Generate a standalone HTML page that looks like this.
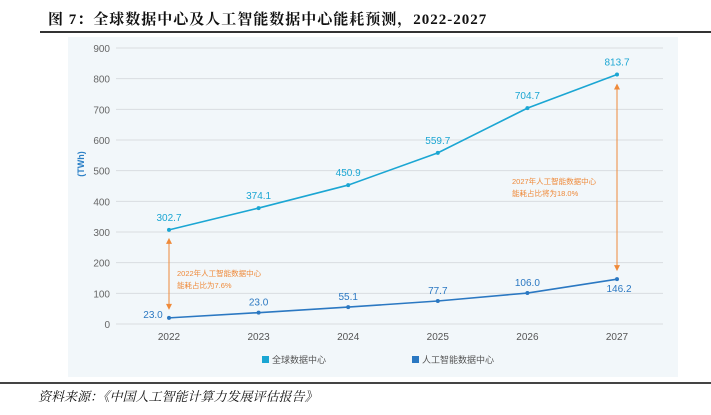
<!DOCTYPE html>
<html><head><meta charset="utf-8">
<style>
body{margin:0;background:#fff;width:711px;height:415px;overflow:hidden;font-family:"Liberation Sans","Noto Sans CJK SC",sans-serif;}
#title{position:absolute;left:48px;top:8px;font-family:"Liberation Serif","Noto Serif CJK SC",serif;font-weight:bold;font-size:15px;color:#111;letter-spacing:1px;}
#rule1{position:absolute;left:40px;top:31px;width:671px;height:2px;background:#333;}
#panel{position:absolute;left:68px;top:37px;width:610px;height:340px;background:#f2f7fa;}
#rule2{position:absolute;left:0;top:382px;width:711px;height:2px;background:#444;}
#source{position:absolute;left:38px;top:386px;font-family:"Liberation Serif","Noto Serif CJK SC",serif;font-style:italic;font-size:13px;color:#111;}
svg{position:absolute;left:0;top:0;}
</style></head><body>
<div id="title">图 7：全球数据中心及人工智能数据中心能耗预测，2022-2027</div>
<div id="rule1"></div>
<div id="panel"></div>
<svg id="chart" width="711" height="415"></svg>
<div id="rule2"></div>
<div id="source">资料来源：《中国人工智能计算力发展评估报告》</div>
<script>
const years=["2022","2023","2024","2025","2026","2027"];
const globalVals=[307,378,453,558,704,813.7];
const globalLabels=["302.7","374.1","450.9","559.7","704.7","813.7"];
const aiVals=[20,37,55.1,75,101,146.2];
const aiLabels=["23.0","23.0","55.1","77.7","106.0","146.2"];
const yTicks=[0,100,200,300,400,500,600,700,800,900];

const NS="http://www.w3.org/2000/svg";
const svg=document.getElementById('chart');
const x=i=>169+i*89.6;
const y=v=>324-v*(276/900);
function mk(tag,attrs,txt){const e=document.createElementNS(NS,tag);for(const k in attrs)e.setAttribute(k,attrs[k]);if(txt!==undefined)e.textContent=txt;svg.appendChild(e);return e;}

yTicks.forEach(t=>{
  const l=mk('line',{x1:116,x2:663,y1:y(t),y2:y(t),stroke:'#d9dde0','stroke-width':1});
  
  
  const tx=mk('text',{x:110,y:y(t)+4,'text-anchor':'end','font-size':10,fill:'#666'},t);
  
  
});
const yt=mk('text',{x:0,y:0,transform:'translate(84,164) rotate(-90)','text-anchor':'middle','font-size':9,fill:'#2a7fc6','font-weight':'bold'},'(TWh)');



years.forEach((yr,i)=>{
  const t=mk('text',{x:x(i),y:340,'text-anchor':'middle','font-size':10,fill:'#555'},yr);
  
  
});

function series(vals,labels,color,name,labelDy){
  const pts=vals.map((v,i)=>x(i)+','+y(v)).join(' ');
  const pl=mk('polyline',{points:pts,fill:'none',stroke:color,'stroke-width':1.6});
  
  
  vals.forEach((v,i)=>{
    const c=mk('circle',{cx:x(i),cy:y(v),r:2,fill:color});
    
    
    const d=labelDy(i);
    const t=mk('text',{x:x(i)+d[0],y:y(v)+d[1],'text-anchor':'middle','font-size':10,fill:color},labels[i]);
    
    
  });
}
series(globalVals,globalLabels,'#1ba6d3','global',i=>[0,-9]);
series(aiVals,aiLabels,'#2b78c2','ai',i=>i===0?[-16,0]:(i===5?[2,13]:[0,-7]));

// annotations
const orange='#ef8a3a';
function arrow(xp,y1,y2,name){
  const l=mk('line',{x1:xp,x2:xp,y1:y1+5,y2:y2-5,stroke:orange,'stroke-width':1});
  
  
  mk('polygon',{points:`${xp-3},${y1+6} ${xp+3},${y1+6} ${xp},${y1}`,fill:orange});
  mk('polygon',{points:`${xp-3},${y2-6} ${xp+3},${y2-6} ${xp},${y2}`,fill:orange});
}
arrow(169,y(globalVals[0])+8,y(aiVals[0])-8,'arrow-2022');
arrow(617,y(globalVals[5])+9,y(aiVals[5])-8,'arrow-2027');
[['2022年人工智能数据中心',177,276],['能耗占比为7.6%',177,288],['2027年人工智能数据中心',512,184],['能耗占比将为18.0%',512,196]].forEach((a,i)=>{
  const t=mk('text',{x:a[1],y:a[2],'font-size':7.5,fill:orange},a[0]);
  
  
});

// legend
[['全球数据中心','#1ba6d3',262],['人工智能数据中心','#2b78c2',412]].forEach((l,i)=>{
  const r=mk('rect',{x:l[2],y:356,width:7,height:7,fill:l[1]});
  
  
  const t=mk('text',{x:l[2]+10,y:363,'font-size':9,fill:'#555'},l[0]);
  
  
});
</script>
</body></html>
